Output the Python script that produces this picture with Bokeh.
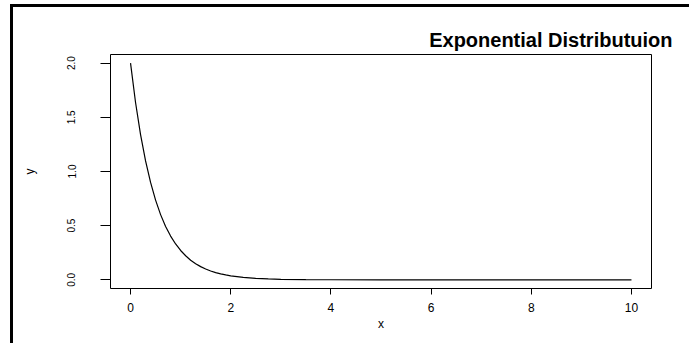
from bokeh.plotting import figure
from bokeh.models import Range1d, Title, FixedTicker, PrintfTickFormatter
from bokeh.embed import file_html
from bokeh.resources import INLINE

# Values
x_vals = [0.0, 0.1, 0.2, 0.3, 0.4, 0.5, 0.6, 0.7, 0.8, 0.9, 1.0,
          1.1, 1.2, 1.3, 1.4, 1.5, 1.6, 1.7, 1.8, 1.9, 2.0,
          2.25, 2.5, 2.75, 3.0, 3.5, 4.0, 5.0, 6.0, 7.0, 8.0, 9.0, 10.0]
y_vals = [2.000, 1.637, 1.341, 1.098, 0.899, 0.736, 0.602, 0.493, 0.404, 0.331, 0.271,
          0.222, 0.181, 0.149, 0.122, 0.100, 0.082, 0.067, 0.055, 0.045, 0.037,
          0.022, 0.013, 0.008, 0.005, 0.002, 0.001, 0.000, 0.000, 0.000, 0.000, 0.000, 0.000]
x_ticks = [0, 2, 4, 6, 8, 10]
y_ticks = [0.0, 0.5, 1.0, 1.5, 2.0]
title_text = "Exponential Distributuion"
x_label = "x"
y_label = "y"

FONT = "Liberation Sans"

p = figure(width=676, height=336, output_backend="svg", toolbar_location=None,
           x_range=Range1d(-0.4, 10.4), y_range=Range1d(-0.08, 2.08),
           min_border_left=97, min_border_right=41, min_border_top=47, min_border_bottom=58,
           title=None)
p.styles = {"margin-left": "10px", "margin-top": "4px",
            "border-left": "3px solid black", "border-top": "3px solid black",
            "box-sizing": "content-box", "overflow": "visible"}

p.add_layout(Title(text=title_text, align="right", offset=-21, standoff=7,
                   text_font=FONT, text_font_style="bold", text_font_size="20px",
                   text_color="black"), "above")

p.line(x_vals, y_vals, line_color="black", line_width=1.2)

p.outline_line_color = "black"
p.outline_line_width = 1
p.xgrid.visible = False
p.ygrid.visible = False

xa = p.xaxis[0]
xa.ticker = FixedTicker(ticks=x_ticks)
xa.axis_line_color = None
xa.major_tick_in = 0
xa.major_tick_out = 6
xa.minor_tick_out = 0
xa.minor_tick_in = 0
xa.major_tick_line_color = "black"
xa.major_label_text_font = FONT
xa.major_label_text_font_size = "12px"
xa.major_label_text_color = "black"
xa.major_label_standoff = 8
xa.axis_label = x_label
xa.axis_label_text_font = FONT
xa.axis_label_text_font_style = "normal"
xa.axis_label_text_font_size = "12px"
xa.axis_label_text_color = "black"
xa.axis_label_standoff = 2

ya = p.yaxis[0]
ya.ticker = FixedTicker(ticks=y_ticks)
ya.formatter = PrintfTickFormatter(format="%.1f")
ya.axis_line_color = None
ya.major_tick_in = 0
ya.major_tick_out = 10
ya.minor_tick_out = 0
ya.minor_tick_in = 0
ya.major_tick_line_color = "black"
ya.major_label_text_font = FONT
ya.major_label_text_font_size = "10px"
ya.major_label_text_color = "black"
ya.major_label_orientation = "vertical"
ya.major_label_standoff = 25
ya.axis_label = y_label
ya.axis_label_text_font = FONT
ya.axis_label_text_font_style = "normal"
ya.axis_label_text_font_size = "12px"
ya.axis_label_text_color = "black"
ya.axis_label_standoff = 28

open("out.html", "w").write(file_html(p, INLINE))
